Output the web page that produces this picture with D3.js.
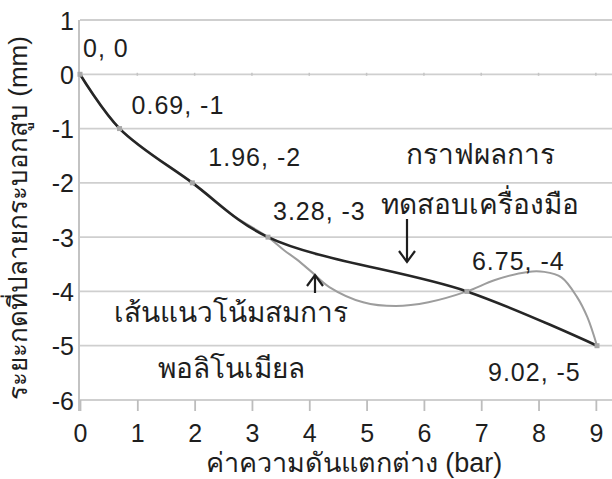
<!DOCTYPE html>
<html><head><meta charset="utf-8">
<script src="https://cdn.jsdelivr.net/npm/d3@7"></script>
<style>
html,body{margin:0;padding:0;background:#fff;}
svg{display:block;font-family:"Liberation Sans",Arial,"DejaVu Sans",sans-serif;}
</style></head><body>
<svg id="chart" width="612" height="479"></svg>
<script>
// Measured points: pressure difference (bar) vs. displacement at the cylinder tip (mm)
const pressure = [0, 0.69, 1.96, 3.28, 6.75, 9.02];
const displacement = [0, -1, -2, -3, -4, -5];
// Polynomial trend line, traced along its path
const trendX = [0, 0.69, 1.96, 2.6, 3.28, 3.56, 3.78, 4.04, 4.35, 4.94, 5.51, 6.08, 6.75, 7.24, 7.81, 8.10, 8.40, 8.67, 8.85, 9.02];
const trendY = [0, -1, -2, -2.55, -3, -3.24, -3.41, -3.64, -3.92, -4.20, -4.27, -4.20, -4, -3.79, -3.64, -3.64, -3.74, -4.10, -4.47, -5];
const xTicks = [0, 1, 2, 3, 4, 5, 6, 7, 8, 9];
const yTicks = [1, 0, -1, -2, -3, -4, -5, -6];
const yTitle = "ระยะกดที่ปลายกระบอกสูบ (mm)";
const xTitle = "ค่าความดันแตกต่าง (bar)";
const testLabel = ["กราฟผลการ", "ทดสอบเครื่องมือ"];
const trendLabel = ["เส้นแนวโน้มสมการ", "พอลิโนเมียล"];

const W = 612, H = 479;
const svg = d3.select("#chart");
const x = d3.scaleLinear().domain([0, 9.02]).range([80, 597]);
const y = d3.scaleLinear().domain([-6, 1]).range([400, 20]);
const ink = "#1e1e1e";
const numFmt = d => String(d);

// horizontal gridlines
svg.append("g").selectAll("line").data(yTicks).join("line")
  .attr("x1", x(0)).attr("x2", W)
  .attr("y1", d => y(d)).attr("y2", d => y(d))
  .attr("stroke", "#cfcfcf").attr("stroke-width", 1.8);

// faint minor marks along the zero line
svg.append("g").selectAll("line").data(xTicks.slice(1)).join("line")
  .attr("x1", d => x(d)).attr("x2", d => x(d))
  .attr("y1", y(0) - 1.5).attr("y2", y(0) + 1.5)
  .attr("stroke", "#c4c4c4").attr("stroke-width", 1.5);

// y axis
const yAxis = svg.append("g").attr("transform", `translate(${x(0) - 1},0)`)
  .call(d3.axisLeft(y).tickValues(yTicks).tickSize(0).tickPadding(5).tickFormat(numFmt));
yAxis.select(".domain").attr("stroke", "#bdbdbd").attr("stroke-width", 1.8).attr("d", `M0,${y(1)}V${y(-6) + 11}`);
yAxis.selectAll("text").attr("fill", ink).style("font-size", "25px").attr("dy", "0.36em");

// x axis
const xAxis = svg.append("g").attr("transform", `translate(0,${y(-6)})`)
  .call(d3.axisBottom(x).tickValues(xTicks).tickSize(11).tickPadding(13).tickFormat(numFmt));
xAxis.select(".domain").remove();
xAxis.selectAll(".tick line").attr("stroke", "#bdbdbd").attr("stroke-width", 1.8);
xAxis.selectAll("text").attr("fill", ink).style("font-size", "25px");

const lineGen = d3.line().x(d => x(d[0])).y(d => y(d[1])).curve(d3.curveCatmullRom.alpha(0.5));

// trend line
svg.append("path").datum(trendX.map((v, i) => [v, trendY[i]]))
  .attr("d", lineGen).attr("fill", "none")
  .attr("stroke", "#9d9d9d").attr("stroke-width", 2);

// measured line
const pts = pressure.map((v, i) => [v, displacement[i]]);
svg.append("path").datum(pts)
  .attr("d", lineGen).attr("fill", "none")
  .attr("stroke", "#262626").attr("stroke-width", 2.6);

// point markers
svg.append("g").selectAll("rect").data(pts).join("rect")
  .attr("x", d => x(d[0]) - 2.5).attr("y", d => y(d[1]) - 2.5)
  .attr("width", 5).attr("height", 5)
  .attr("fill", "#a8a8a8");

// point labels
const labelShift = [[3, -17], [12, -15], [16, -17], [5, -17], [5, -21], [-109, 35]];
svg.append("g").selectAll("text").data(pts).join("text")
  .attr("x", (d, i) => x(d[0]) + labelShift[i][0])
  .attr("y", (d, i) => y(d[1]) + labelShift[i][1])
  .attr("fill", ink).style("font-size", "25px").style("letter-spacing", "1px")
  .text(d => `${d[0]}, ${d[1]}`);

// annotations
const annot = svg.append("g").attr("fill", ink).style("font-size", "28px").attr("text-anchor", "middle");
annot.append("text").attr("x", 480).attr("y", 164).text(testLabel[0]);
annot.append("text").attr("x", 480).attr("y", 214).text(testLabel[1]);
annot.append("text").attr("x", 231).attr("y", 322).text(trendLabel[0]);
annot.append("text").attr("x", 231).attr("y", 378).text(trendLabel[1]);

function arrow(x0, y0, y1) {
  const dir = y1 > y0 ? 1 : -1;
  const g = svg.append("g").attr("stroke", ink).attr("stroke-width", 2.2).attr("fill", "none");
  g.append("line").attr("x1", x0).attr("x2", x0).attr("y1", y0).attr("y2", y1);
  g.append("path").attr("d", `M${x0 - 8},${y1 - dir * 11}L${x0},${y1}L${x0 + 8},${y1 - dir * 11}`);
}
arrow(407, 219, 262);
arrow(315, 293, 275);

// axis titles
svg.append("text").attr("transform", `translate(27,218) rotate(-90)`)
  .attr("text-anchor", "middle").attr("fill", ink).style("font-size", "26px").text(yTitle);
svg.append("text").attr("x", 354).attr("y", 472)
  .attr("text-anchor", "middle").attr("fill", ink).style("font-size", "27px").text(xTitle);
</script>
</body></html>
